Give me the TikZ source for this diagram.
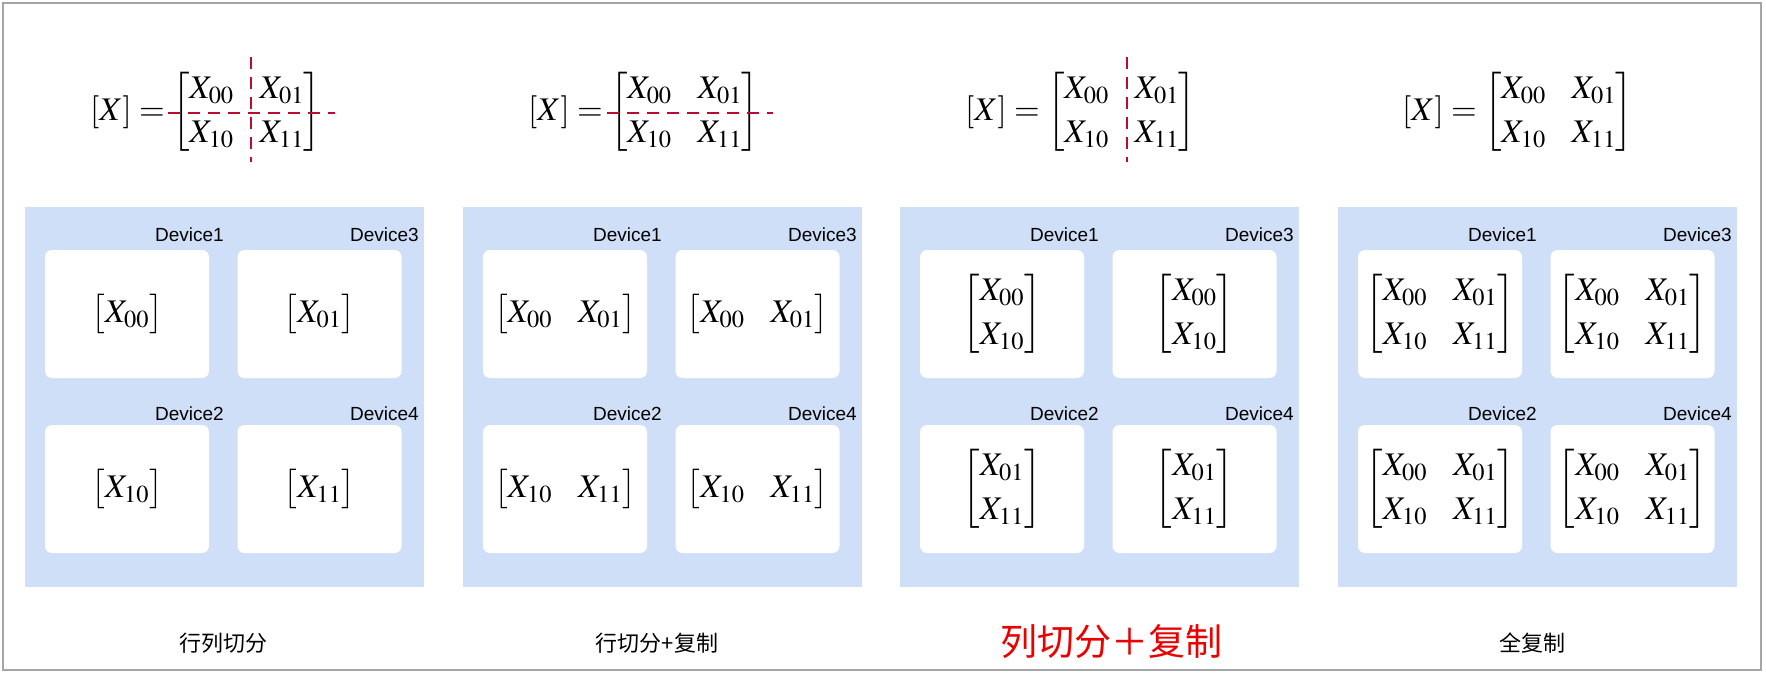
\documentclass[tikz,border=0pt]{standalone}
\usepackage{amsmath}
\usepackage{mathptmx}
\usepackage[no-math]{fontspec}
\newfontfamily\devfont{Liberation Sans}
\newfontfamily\cjk{Noto Sans CJK SC}
\definecolor{panelblue}{RGB}{207,223,248}
\definecolor{cutred}{RGB}{186,12,47}
\definecolor{capred}{RGB}{235,0,0}
\definecolor{framegray}{RGB}{165,165,165}

\newcommand{\mathsetup}{\fontsize{33}{44}\selectfont\setlength{\arraycolsep}{13pt}%
  \delimitershortfall=14pt\delimiterfactor=800}
\newcommand{\Mfull}{$\begin{bmatrix}X_{00}&X_{01}\\X_{10}&X_{11}\end{bmatrix}$}
\newcommand{\Mcol}[2]{$\begin{bmatrix}X_{#1}\\X_{#2}\end{bmatrix}$}
\newcommand{\Mrow}[2]{\raisebox{-4pt}{$\begin{bmatrix}X_{#1}&X_{#2}\end{bmatrix}$}}
\newcommand{\Mone}[1]{\raisebox{-4pt}{$\begin{bmatrix}X_{#1}\end{bmatrix}$}}

\newcommand{\panelblock}[6]{%
  \node[panel, anchor=north west] (#2) at (#1,207) {};
  \node[devbox] (#2a) at ({#1+102},314) {#3};
  \node[devbox] (#2c) at ({#1+294.5},314) {#4};
  \node[devbox] (#2b) at ({#1+102},489) {#5};
  \node[devbox] (#2d) at ({#1+294.5},489) {#6};
  \node[devlabel] (#2la) at ({#1+199},241) {Device1};
  \node[devlabel] (#2lc) at ({#1+394},241) {Device3};
  \node[devlabel] (#2lb) at ({#1+199},420) {Device2};
  \node[devlabel] (#2ld) at ({#1+394},420) {Device4};
}

\begin{document}
\begin{tikzpicture}[x=1pt,y=-1pt,
  panel/.style={fill=panelblue, draw=none, minimum width=399pt, minimum height=380pt, inner sep=0pt, outer sep=0pt},
  devbox/.style={fill=white, draw=none, rounded corners=7pt, minimum width=164pt, minimum height=128pt, inner sep=0pt,
    font=\mathsetup},
  devlabel/.style={font=\devfont\fontsize{19}{22}\selectfont, anchor=base east, inner sep=0pt},
  mth/.style={font=\mathsetup, inner sep=0pt},
  cut/.style={draw=cutred, line width=2.6pt, dash pattern=on 12pt off 8pt},
  caption/.style={font=\cjk\fontsize{22}{26}\selectfont, inner sep=0pt},
  redcaption/.style={font=\cjk\fontsize{37}{42}\selectfont, text=capred, inner sep=0pt},
  frame/.style={draw=framegray, line width=1.5pt}]
\useasboundingbox (0,0) rectangle (1766,674);
\fill[white] (0,0) rectangle (1766,674);
\draw[frame] (3,3) rectangle (1761,670);

% equations
\node[mth, anchor=west] (e1) at (90,112) {$[X] = \begin{bmatrix}X_{00}&X_{01}\\X_{10}&X_{11}\end{bmatrix}$};
\node[mth, anchor=west] (e2) at (528,112) {$[X] = \begin{bmatrix}X_{00}&X_{01}\\X_{10}&X_{11}\end{bmatrix}$};
\node[mth, anchor=west] (e3) at (965,112) {$[X] = \begin{bmatrix}X_{00}&X_{01}\\X_{10}&X_{11}\end{bmatrix}$};
\node[mth, anchor=west] (e4) at (1402,112) {$[X] = \begin{bmatrix}X_{00}&X_{01}\\X_{10}&X_{11}\end{bmatrix}$};

\draw[cut] (168,113) -- (335,113);
\draw[cut] (251,57) -- (251,162);
\draw[cut] (607,113) -- (773,113);
\draw[cut] (1127,57) -- (1127,162);

% panels
\panelblock{25}{pa}{\Mone{00}}{\Mone{01}}{\Mone{10}}{\Mone{11}}
\panelblock{463}{pb}{\Mrow{00}{01}}{\Mrow{00}{01}}{\Mrow{10}{11}}{\Mrow{10}{11}}
\panelblock{900}{pc}{\Mcol{00}{10}}{\Mcol{00}{10}}{\Mcol{01}{11}}{\Mcol{01}{11}}
\panelblock{1338}{pd}{\Mfull}{\Mfull}{\Mfull}{\Mfull}

% captions
\node[caption] (c1) at (223,643) {行列切分};
\node[caption] (c2) at (657,643) {行切分+复制};
\node[redcaption] (c3) at (1111,642) {列切分＋复制};
\node[caption] (c4) at (1532,643) {全复制};
\end{tikzpicture}
\end{document}
